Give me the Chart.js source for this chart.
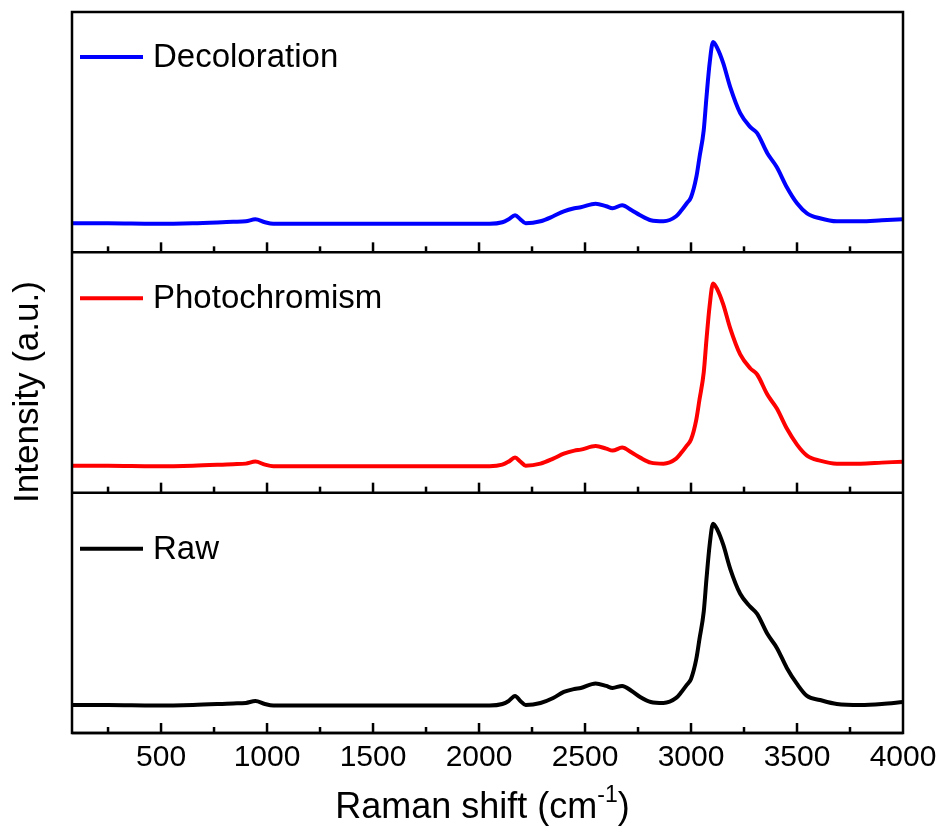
<!DOCTYPE html>
<html>
<head>
<meta charset="utf-8">
<script src="https://cdn.jsdelivr.net/npm/chart.js@4.4.1/dist/chart.umd.min.js"></script>
<style>
  html, body { margin: 0; padding: 0; background: #fff; }
  canvas { display: block; }
</style>
</head>
<body>
<canvas id="graficoRaman" width="939" height="835"></canvas>
<script>
// Datos: desplazamiento Raman (cm-1) compartido por las tres curvas
const desplazamiento = [80, 250, 470, 650, 840, 900, 945, 990, 1030, 1200, 1500, 1800, 2050, 2110, 2140, 2170, 2195, 2220, 2290, 2350, 2400, 2450, 2480, 2550, 2600, 2630, 2675, 2720, 2760, 2810, 2870, 2930, 2955, 2980, 3000, 3025, 3040, 3060, 3073, 3088, 3104, 3124, 3152, 3185, 3232, 3280, 3312, 3360, 3405, 3452, 3500, 3547, 3608, 3688, 3800, 3900, 4000];

// Intensidades (a.u.) de cada espectro
const decoloracion = [29, 29, 28.5, 29, 30.5, 31, 33, 30, 28.5, 28.5, 28.5, 28.5, 28.5, 30, 33, 37, 33, 29, 31, 36, 41, 44, 45, 48.5, 46, 44, 47, 42, 37, 32, 31, 36, 42, 49, 55, 75, 95, 122, 155, 189, 210, 204, 189, 165, 139, 125, 119, 99, 85, 65, 49, 39, 34, 31, 31, 32, 33];
const fotocromismo = [27, 27, 26.5, 27, 28.5, 29, 31, 28, 26.5, 26.5, 26.5, 26.5, 26.5, 28, 31, 35, 31, 27, 29, 34, 39, 42, 43, 46.5, 44, 42, 45, 40, 35, 30, 29, 34, 40, 47, 53, 73, 93, 120, 153, 187, 209, 203, 188, 164, 138, 124, 118, 98, 84, 64, 48, 37, 32, 29, 29, 30, 31];
const bruto = [28, 28, 27.5, 28, 29.5, 30, 32, 29, 27.5, 27.5, 27.5, 27.5, 27.5, 29, 32, 37, 32, 28, 30, 35, 41, 44, 45, 49.5, 47, 45, 47, 42, 36, 31, 30, 35, 41, 48, 54, 74, 94, 121, 154, 188, 209, 203, 188, 164, 139, 126, 119, 99, 85, 65, 49, 37, 33, 29, 28, 29, 31];

// Marcas del eje X
const etiquetasX = [500, 1000, 1500, 2000, 2500, 3000, 3500, 4000];
const nombresSeries = ['Decoloration', 'Photochromism', 'Raw'];
const coloresSeries = ['#0000ff', '#ff0000', '#000000'];
const ejesPaneles = ['yDeco', 'yFoto', 'yRaw'];

const fuente = '"Liberation Sans", Arial, sans-serif';

function puntos(valores) {
  return desplazamiento.map((x, i) => ({ x: x, y: valores[i] }));
}

// Plugin: marco, separadores, marcas interiores, leyendas y títulos
const marcoPaneles = {
  id: 'marcoPaneles',
  afterDraw(chart) {
    const ctx = chart.ctx;
    const area = chart.chartArea;
    const ejeX = chart.scales.x;
    const desfaseLeyenda = [45, 46, 56];
    ctx.save();
    ctx.strokeStyle = '#000';
    ctx.lineWidth = 2.5;
    ctx.strokeRect(area.left, area.top, area.width, area.height);

    ejesPaneles.forEach((id, k) => {
      const eje = chart.scales[id];
      const yb = eje.bottom;
      ctx.beginPath();
      ctx.moveTo(area.left, yb);
      ctx.lineTo(area.right, yb);
      ctx.stroke();
      for (let v = 250; v < 4000; v += 250) {
        const px = ejeX.getPixelForValue(v);
        const largo = v % 500 === 0 ? 10 : 6;
        ctx.beginPath();
        ctx.moveTo(px, yb);
        ctx.lineTo(px, yb - largo);
        ctx.stroke();
      }
      // leyenda del panel
      const yl = eje.top + desfaseLeyenda[k];
      ctx.strokeStyle = coloresSeries[k];
      ctx.lineWidth = 4;
      ctx.beginPath();
      ctx.moveTo(80, yl);
      ctx.lineTo(143, yl);
      ctx.stroke();
      ctx.strokeStyle = '#000';
      ctx.lineWidth = 2.5;
      ctx.fillStyle = '#000';
      ctx.font = '33px ' + fuente;
      ctx.textAlign = 'left';
      ctx.textBaseline = 'middle';
      ctx.fillText(nombresSeries[k], 153, yl + 1);
    });

    // título del eje Y
    ctx.save();
    ctx.translate(28, 392);
    ctx.rotate(-Math.PI / 2);
    ctx.font = '35px ' + fuente;
    ctx.textAlign = 'center';
    ctx.textBaseline = 'middle';
    ctx.fillText('Intensity (a.u.)', 0, 0);
    ctx.restore();

    // título del eje X con superíndice
    const base = 818;
    const t1 = 'Raman shift (cm', t2 = '-1', t3 = ')';
    ctx.font = '36px ' + fuente;
    const w1 = ctx.measureText(t1).width, w3 = ctx.measureText(t3).width;
    ctx.font = '23px ' + fuente;
    const w2 = ctx.measureText(t2).width;
    let x0 = (area.left + area.right) / 2 - 5 - (w1 + w2 + w3) / 2;
    ctx.textAlign = 'left';
    ctx.textBaseline = 'alphabetic';
    ctx.font = '36px ' + fuente;
    ctx.fillText(t1, x0, base);
    ctx.font = '23px ' + fuente;
    ctx.fillText(t2, x0 + w1, base - 16);
    ctx.font = '36px ' + fuente;
    ctx.fillText(t3, x0 + w1 + w2, base);
    ctx.restore();
  }
};

const ejeY = {
  type: 'linear',
  min: 0,
  max: 240,
  stack: 'paneles',
  position: 'left',
  ticks: { display: false },
  grid: { display: false, drawTicks: false },
  border: { display: false },
  afterFit: (s) => { s.width = 72; }
};

const ctx = document.getElementById('graficoRaman').getContext('2d');
new Chart(ctx, {
  type: 'line',
  data: {
    datasets: [
      { label: nombresSeries[0], data: puntos(decoloracion), yAxisID: 'yDeco', borderColor: coloresSeries[0] },
      { label: nombresSeries[1], data: puntos(fotocromismo), yAxisID: 'yFoto', borderColor: coloresSeries[1] },
      { label: nombresSeries[2], data: puntos(bruto), yAxisID: 'yRaw', borderColor: coloresSeries[2] }
    ]
  },
  options: {
    responsive: false,
    animation: false,
    devicePixelRatio: 1,
    layout: { padding: { top: 12, right: 36, left: 0, bottom: 0 } },
    elements: {
      point: { radius: 0 },
      line: { borderWidth: 4, cubicInterpolationMode: 'monotone', fill: false }
    },
    plugins: { legend: { display: false }, tooltip: { enabled: false } },
    scales: {
      x: {
        type: 'linear',
        min: 80,
        max: 4000,
        grid: { display: false, drawTicks: false },
        border: { display: false },
        ticks: {
          color: '#000',
          font: { family: fuente, size: 30 },
          padding: 7,
          maxRotation: 0,
          autoSkip: false,
          callback: (v) => String(v)
        },
        afterBuildTicks: (s) => { s.ticks = etiquetasX.map(v => ({ value: v })); },
        afterFit: (s) => { s.height = 102; s.paddingLeft = 0; s.paddingRight = 0; }
      },
      // el orden de apilado a la izquierda va invertido: el último definido queda arriba
      yRaw: Object.assign({}, ejeY),
      yFoto: Object.assign({}, ejeY),
      yDeco: Object.assign({}, ejeY)
    }
  },
  plugins: [marcoPaneles]
});
</script>
</body>
</html>
